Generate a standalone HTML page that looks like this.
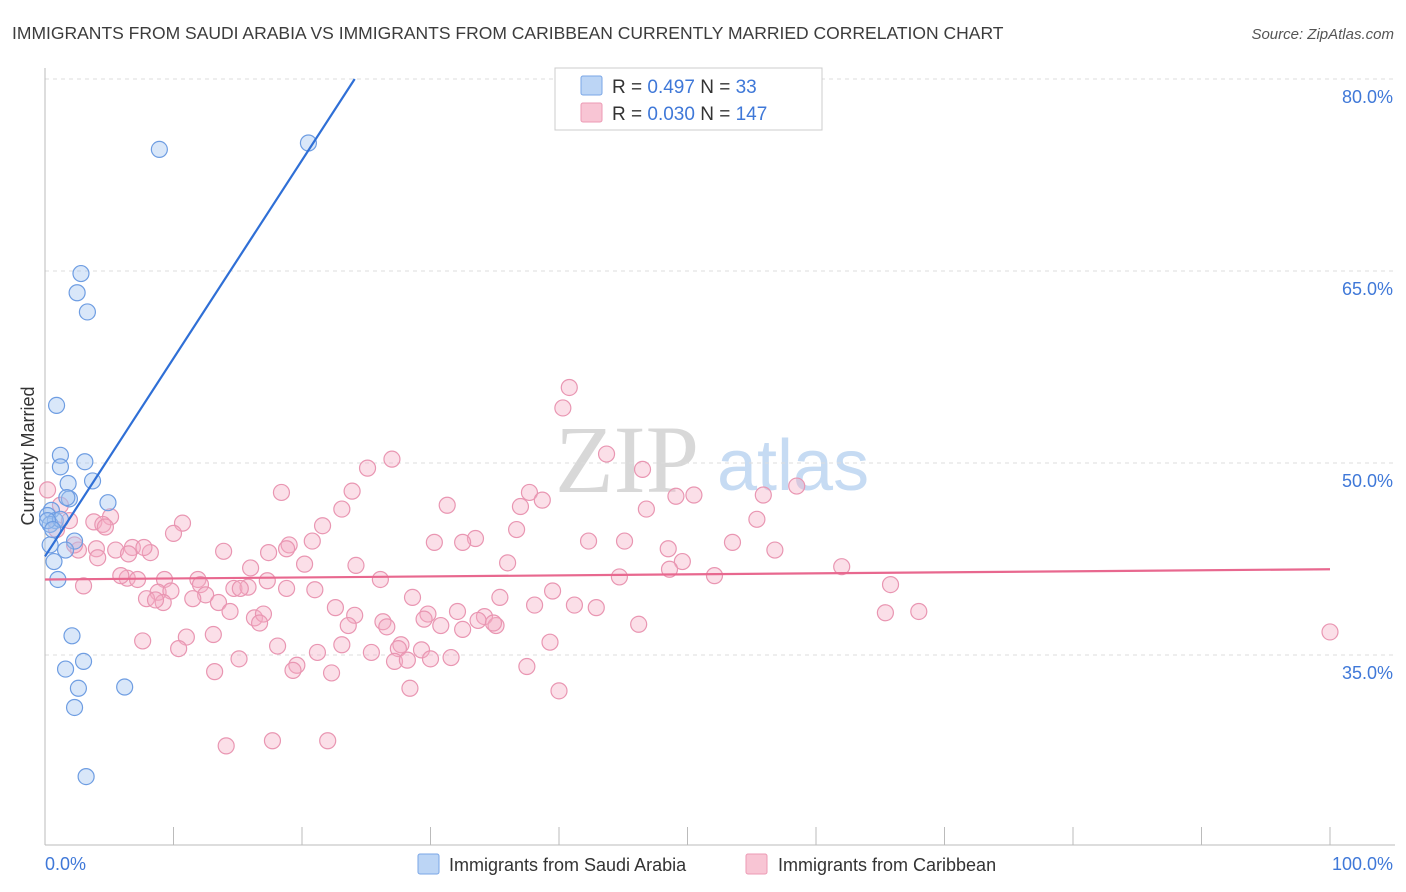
<!DOCTYPE html>
<html><head><meta charset="utf-8"><style>
body{margin:0;background:#fff;font-family:"Liberation Sans",sans-serif;}
#c{position:relative;width:1406px;height:892px;overflow:hidden}
</style></head><body>
<div id="c">
<svg id="svg" width="1406" height="892" xmlns="http://www.w3.org/2000/svg">
<text x="12" y="39" font-size="17.5" fill="#3c3c3c">IMMIGRANTS FROM SAUDI ARABIA VS IMMIGRANTS FROM CARIBBEAN CURRENTLY MARRIED CORRELATION CHART</text>
<text x="1394" y="39" font-size="15" fill="#555" font-style="italic" text-anchor="end">Source: ZipAtlas.com</text>
<text x="555" y="492" font-size="96" fill="#d8d8d8" font-family="Liberation Serif,serif">ZIP</text>
<text x="717" y="490" font-size="72" fill="#c6dbf3">atlas</text>
<text x="34" y="456" font-size="18" fill="#333" text-anchor="middle" transform="rotate(-90 34 456)">Currently Married</text>
<g id="grid"></g><g id="axes"></g><g id="pts"></g><g id="lines"></g>
<g>
<rect x="555" y="68" width="267" height="62" fill="#fff" stroke="#ccc"/>
<rect x="581" y="76" width="21" height="19" fill="#bcd5f5" stroke="#7aa6e6" rx="2"/>
<rect x="581" y="103" width="21" height="19" fill="#f8c5d4" stroke="#ec9ab4" rx="2"/>
<text x="612" y="93" font-size="19" fill="#333">R = <tspan fill="#3f78d8">0.497</tspan>   N =  <tspan fill="#3f78d8"> 33</tspan></text>
<text x="612" y="120" font-size="19" fill="#333">R = <tspan fill="#3f78d8">0.030</tspan>   N = <tspan fill="#3f78d8">147</tspan></text>
</g>
<g>
<rect x="418" y="854" width="21" height="20" fill="#bcd5f5" stroke="#7aa6e6" rx="2"/>
<text x="449" y="871" font-size="18" fill="#333">Immigrants from Saudi Arabia</text>
<rect x="746" y="854" width="21" height="20" fill="#f8c5d4" stroke="#ec9ab4" rx="2"/>
<text x="778" y="871" font-size="18" fill="#333">Immigrants from Caribbean</text>
</g>
<text x="45" y="870" font-size="18" fill="#3f78d8">0.0%</text>
<text x="1393" y="870" font-size="18" fill="#3f78d8" text-anchor="end">100.0%</text>
</svg>
</div>
<script>
const yTicks=[35,50,65,80];
const xTickVals=[0,10,20,30,40,50,60,70,80,90,100];
const blueX=[8.9,20.5,2.8,2.5,3.3,0.9,1.2,1.2,3.1,3.7,1.8,1.9,1.7,4.9,0.5,0.2,0.8,0.4,1.2,2.3,1.6,0.4,0.7,1.0,2.1,3.0,1.6,2.6,6.2,2.3,3.2,0.2,0.6];
const blueY=[74.5,75.0,64.8,63.3,61.8,54.5,50.6,49.7,50.1,48.6,48.4,47.2,47.3,46.9,46.3,45.9,45.5,45.2,45.6,43.9,43.2,43.6,42.3,40.9,36.5,34.5,33.9,32.4,32.5,30.9,25.5,45.5,44.8];
const pinkX=[40.8,40.3,27.0,43.7,25.1,46.5,18.4,23.9,37.7,38.7,31.3,49.1,50.5,55.9,58.5,37.0,46.8,23.1,55.4,10.7,21.6,3.8,5.1,4.5,4.7,10.0,36.7,33.5,30.3,32.5,42.3,45.1,53.5,20.8,19.0,18.8,17.4,13.9,48.5,56.8,8.2,5.5,6.8,7.7,4.0,2.6,6.5,4.1,49.6,36.0,24.2,20.2,16.0,9.3,6.4,7.2,11.9,12.1,5.9,17.3,14.7,15.8,3.0,26.1,44.7,48.6,52.1,62.0,65.8,18.8,21.0,8.8,9.8,7.9,12.5,11.5,15.2,13.5,9.2,8.6,28.6,39.5,35.4,38.1,41.2,42.9,32.1,22.6,14.4,16.3,17.0,24.1,29.8,34.2,33.7,30.8,29.5,32.5,26.3,26.6,23.6,16.7,35.1,34.9,46.2,65.4,68.0,11.0,13.1,7.6,10.4,18.1,23.1,27.7,27.5,21.2,25.4,29.3,39.3,31.6,30.0,27.2,28.2,15.1,19.6,19.3,22.3,13.2,37.5,28.4,40.0,14.1,17.7,22.0,100.0,0.2,1.2,1.9,2.3,0.9];
const pinkY=[55.9,54.3,50.3,50.7,49.6,49.5,47.7,47.8,47.7,47.1,46.7,47.4,47.5,47.5,48.2,46.6,46.4,46.4,45.6,45.3,45.1,45.4,45.8,45.2,45.0,44.5,44.8,44.1,43.8,43.8,43.9,43.9,43.8,43.9,43.6,43.3,43.0,43.1,43.3,43.2,43.0,43.2,43.4,43.4,43.3,43.2,42.9,42.6,42.3,42.2,42.0,42.1,41.8,40.9,41.0,40.9,40.9,40.5,41.2,40.8,40.2,40.3,40.4,40.9,41.1,41.7,41.2,41.9,40.5,40.2,40.1,39.9,40.0,39.4,39.7,39.4,40.2,39.1,39.1,39.3,39.5,40.0,39.5,38.9,38.9,38.7,38.4,38.7,38.4,37.9,38.2,38.1,38.2,38.0,37.7,37.3,37.8,37.0,37.6,37.2,37.3,37.5,37.3,37.5,37.4,38.3,38.4,36.4,36.6,36.1,35.5,35.7,35.8,35.8,35.5,35.2,35.2,35.4,36.0,34.8,34.7,34.5,34.6,34.7,34.2,33.8,33.6,33.7,34.1,32.4,32.2,27.9,28.3,28.3,36.8,47.9,46.7,45.5,43.6,44.8];
const blueLine=[[0,42.7],[24.1,80]];
const pinkLine=[[0,40.9],[100,41.7]];
const X=v=>45+v*12.85, Y=v=>463-(v-50)*12.8;
const NS="http://www.w3.org/2000/svg";
function mk(tag,attrs,parent){const e=document.createElementNS(NS,tag);for(const k in attrs)e.setAttribute(k,attrs[k]);document.getElementById(parent).appendChild(e);return e;}
yTicks.forEach(t=>{
 const l=mk('line',{x1:45,x2:1395,y1:Y(t),y2:Y(t),stroke:'#ddd','stroke-dasharray':'4 4'},'grid');
 
 
 const tx=mk('text',{x:1393,y:Y(t)+24,'font-size':18,fill:'#3f78d8','text-anchor':'end'},'grid');
 tx.textContent=t.toFixed(1)+'%';
 
 
});
const ax=mk('line',{x1:45,x2:45,y1:68,y2:845,stroke:'#bbb'},'axes');


const bx=mk('line',{x1:45,x2:1395,y1:845,y2:845,stroke:'#bbb'},'axes');


xTickVals.forEach(t=>{
 const l=mk('line',{x1:X(t),x2:X(t),y1:827,y2:845,stroke:'#bbb'},'axes');
 
 
});
pinkX.forEach((v,i)=>{
 const c=mk('circle',{cx:X(v),cy:Y(pinkY[i]),r:8,fill:'rgba(244,170,195,0.38)',stroke:'#e996b2','stroke-width':1.2},'pts');
 
 
});
blueX.forEach((v,i)=>{
 const c=mk('circle',{cx:X(v),cy:Y(blueY[i]),r:8,fill:'rgba(160,195,240,0.4)',stroke:'#6e9de2','stroke-width':1.2},'pts');
 
 
});
const bl=mk('line',{x1:X(blueLine[0][0]),y1:Y(blueLine[0][1]),x2:X(blueLine[1][0]),y2:Y(blueLine[1][1]),stroke:'#2f6fd6','stroke-width':2.2},'lines');


const pl=mk('line',{x1:X(pinkLine[0][0]),y1:Y(pinkLine[0][1]),x2:X(pinkLine[1][0]),y2:Y(pinkLine[1][1]),stroke:'#e8688f','stroke-width':2.2},'lines');


</script>
</body></html>
